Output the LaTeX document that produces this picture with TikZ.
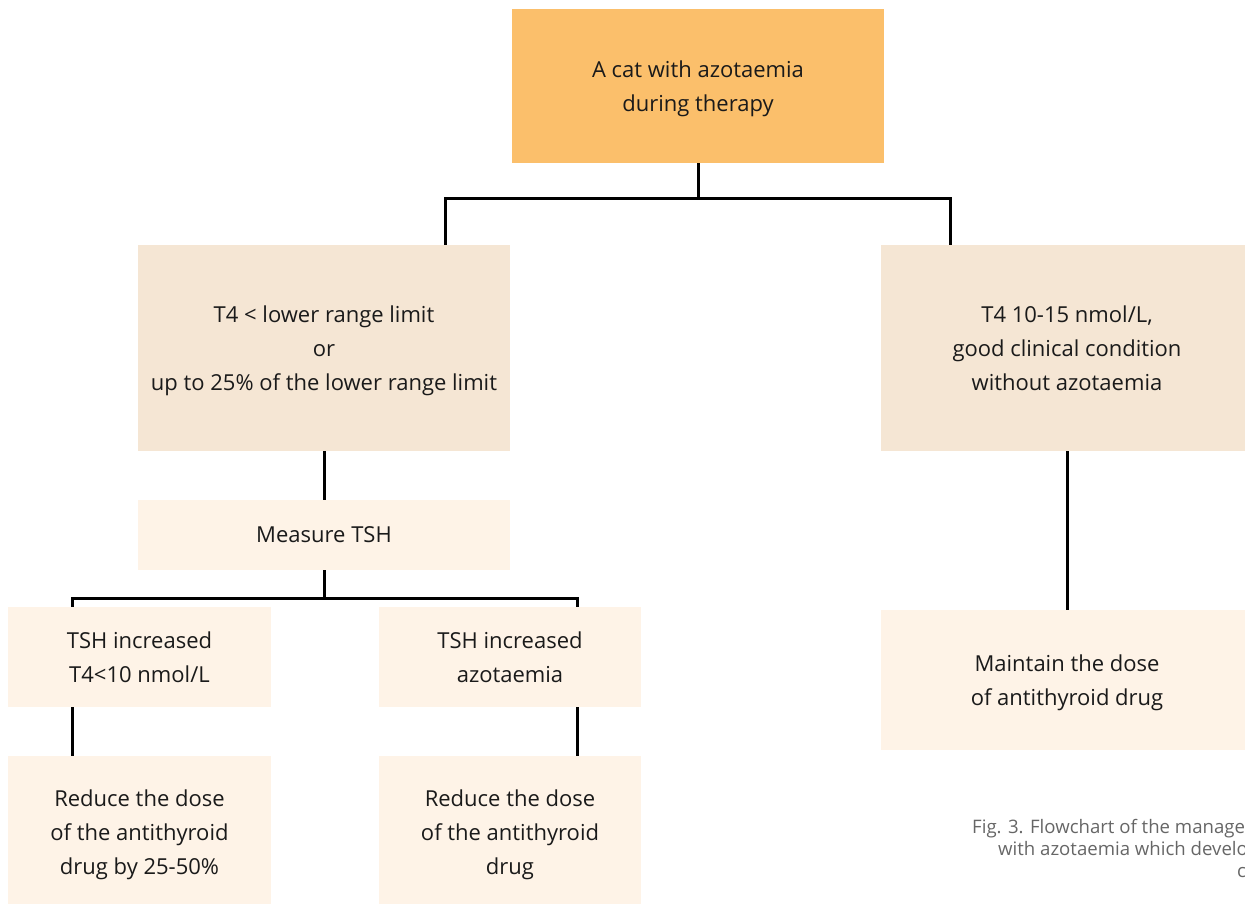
\documentclass[tikz,border=0pt]{standalone}
\usepackage{fontspec}
\setmainfont{Open Sans}
\usetikzlibrary{calc}
\definecolor{orangebox}{HTML}{FBBF6B}
\definecolor{midbox}{HTML}{F5E6D4}
\definecolor{lightbox}{HTML}{FEF3E7}
\definecolor{txt}{HTML}{1A1A1A}
\definecolor{captxt}{HTML}{666666}
\tikzset{
  box/.style={inner sep=0pt, align=center, text=txt, text depth=-5pt,
    font=\fontsize{22}{34}\selectfont},
  obox/.style={box, fill=orangebox},
  mbox/.style={box, fill=midbox},
  lbox/.style={box, fill=lightbox},
  conn/.style={line width=3pt, draw=black},
  captext/.style={inner sep=0pt, anchor=base west, text=captxt,
    font=\fontsize{18.6}{22}\selectfont}
}
\begin{document}
\begin{tikzpicture}[x=1pt,y=-1pt]
\useasboundingbox (0,0) rectangle (1245,904);
\clip (0,0) rectangle (1245,904);
\node[obox, minimum width=372pt, minimum height=154pt] (top) at (698,86) {A cat with azotaemia\\during therapy};
\node[mbox, minimum width=372pt, minimum height=206pt] (lmid) at (324,348) {T4 < lower range limit\\or\\up to 25\% of the lower range limit};
\node[mbox, minimum width=372pt, minimum height=206pt] (rmid) at (1067,348) {T4 10-15 nmol/L,\\good clinical condition\\without azotaemia};
\node[lbox, minimum width=372pt, minimum height=70pt] (tsh) at (324,535) {Measure TSH};
\node[lbox, minimum width=263pt, minimum height=100pt] (t1) at (139.5,657) {TSH increased\\T4<10 nmol/L};
\node[lbox, minimum width=262pt, minimum height=100pt] (t2) at (510,657) {TSH increased\\azotaemia};
\node[lbox, minimum width=263pt, minimum height=152pt] (r1) at (139.5,832) {Reduce the dose\\of the antithyroid\\drug by 25-50\%};
\node[lbox, minimum width=262pt, minimum height=152pt] (r2) at (510,832) {Reduce the dose\\of the antithyroid\\drug};
\node[lbox, minimum width=372pt, minimum height=140pt] (m) at (1067,680) {Maintain the dose\\of antithyroid drug};
% connectors
\coordinate (j1) at ($(top.south)+(0,35)$);
\draw[conn] (top.south) -- (j1);
\draw[conn] ([xshift=121pt]lmid.north) |- (j1) -| ([xshift=-117pt]rmid.north);
\coordinate (j2) at ($(tsh.south)+(0,28)$);
\draw[conn] (lmid.south) -- (tsh.north);
\draw[conn] (tsh.south) -- (j2);
\draw[conn] ([xshift=-67.5pt]t1.north) |- (j2) -| ([xshift=67pt]t2.north);
\draw[conn] ([xshift=-67.5pt]t1.south) -- ([xshift=-67.5pt]r1.north);
\draw[conn] ([xshift=67pt]t2.south) -- ([xshift=67pt]r2.north);
\draw[conn] (rmid.south) -- (m.north);
% caption
\node[captext] (c1) at (972,833) {Fig. 3. Flowchart of the management};
\node[captext] (c2) at (998,855) {with azotaemia which developed};
\node[captext] (c3) at (1237,877) {c};
\end{tikzpicture}
\end{document}
